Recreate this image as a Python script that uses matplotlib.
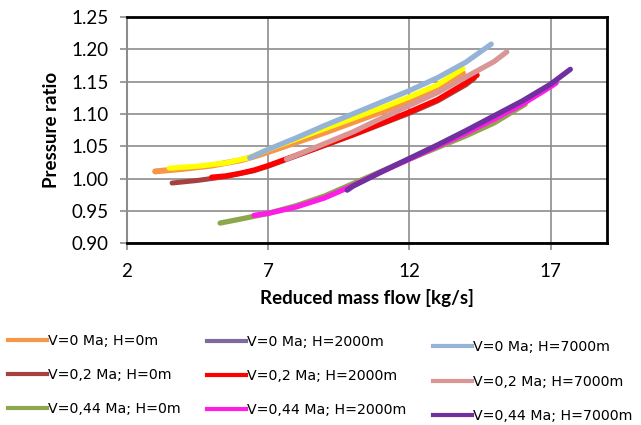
import matplotlib
matplotlib.use("Agg")
import matplotlib.pyplot as plt
from matplotlib.lines import Line2D

plt.rcParams['font.family'] = ['Lato', 'DejaVu Sans']

# --- data ---
v0_h0_x = [3.0, 4.0, 5.0, 6.0, 6.5, 7.0, 8.0, 9.0, 10.0, 11.0, 12.0, 13.0, 13.9]
v0_h0_y = [1.011, 1.015, 1.020, 1.028, 1.034, 1.041, 1.056, 1.071, 1.087, 1.103, 1.120, 1.139, 1.163]

v0_h2000_x = [3.5, 4.5, 5.5, 6.3, 7.0, 8.0, 9.0, 10.0, 11.0, 12.0, 13.0, 13.9]
v0_h2000_y = [1.016, 1.019, 1.024, 1.032, 1.045, 1.061, 1.077, 1.093, 1.109, 1.126, 1.145, 1.170]

v0_h7000_x = [6.35, 7.0, 8.0, 9.0, 10.0, 11.0, 12.0, 13.0, 14.0, 14.9]
v0_h7000_y = [1.032, 1.045, 1.063, 1.082, 1.100, 1.118, 1.136, 1.156, 1.180, 1.208]

v02_h0_x = [3.6, 4.5, 5.5, 6.5, 7.0, 8.0, 9.0, 10.0, 11.0, 12.0, 13.0, 14.0, 14.3]
v02_h0_y = [0.993, 0.997, 1.003, 1.012, 1.019, 1.035, 1.051, 1.067, 1.084, 1.101, 1.120, 1.145, 1.155]

v02_h2000_x = [5.0, 5.5, 6.0, 6.5, 7.0, 8.0, 9.0, 10.0, 11.0, 12.0, 13.0, 14.0, 14.4]
v02_h2000_y = [1.002, 1.004, 1.008, 1.013, 1.020, 1.036, 1.052, 1.068, 1.085, 1.103, 1.122, 1.148, 1.160]

v02_h7000_x = [7.65, 8.0, 9.0, 10.0, 11.0, 12.0, 13.0, 14.0, 15.0, 15.45]
v02_h7000_y = [1.030, 1.036, 1.054, 1.072, 1.093, 1.113, 1.133, 1.157, 1.181, 1.196]

v044_h0_x = [5.3, 6.0, 7.0, 8.0, 9.0, 10.0, 11.0, 12.0, 13.0, 14.0, 15.0, 16.1]
v044_h0_y = [0.931, 0.937, 0.946, 0.958, 0.973, 0.992, 1.011, 1.030, 1.048, 1.066, 1.086, 1.115]

v044_h2000_x = [6.5, 7.0, 8.0, 9.0, 10.0, 11.0, 12.0, 13.0, 14.0, 15.0, 16.0, 17.0, 17.2]
v044_h2000_y = [0.943, 0.946, 0.956, 0.970, 0.989, 1.010, 1.030, 1.050, 1.070, 1.092, 1.115, 1.142, 1.148]

v044_h7000_x = [9.8, 10.0, 11.0, 12.0, 13.0, 14.0, 15.0, 16.0, 17.0, 17.7]
v044_h7000_y = [0.982, 0.988, 1.010, 1.031, 1.052, 1.074, 1.097, 1.120, 1.146, 1.169]

legend_labels_h0 = ["V=0 Ma; H=0m", "V=0,2 Ma; H=0m", "V=0,44 Ma; H=0m"]
legend_labels_h2000 = ["V=0 Ma; H=2000m", "V=0,2 Ma; H=2000m", "V=0,44 Ma; H=2000m"]
legend_labels_h7000 = ["V=0 Ma; H=7000m", "V=0,2 Ma; H=7000m", "V=0,44 Ma; H=7000m"]
legend_colors_h0 = ["#F79646", "#A5423F", "#8EA74C"]
legend_colors_h2000 = ["#7F6A9E", "#FF0000", "#FF1CE6"]
legend_colors_h7000 = ["#95B3D7", "#D99694", "#7030A0"]

x_ticks = [2, 7, 12, 17]
y_ticks = [0.90, 0.95, 1.00, 1.05, 1.10, 1.15, 1.20, 1.25]

fig = plt.figure(figsize=(6.41, 4.25), dpi=100)
ax = fig.add_axes([0.198, 0.428, 0.749, 0.532])

series = [
    (v0_h0_x, v0_h0_y, "#F79646", 4.3),
    (v0_h2000_x, v0_h2000_y, "#FFFF00", 3.8),
    (v0_h7000_x, v0_h7000_y, "#95B3D7", 3.8),
    (v02_h0_x, v02_h0_y, "#A5423F", 3.6),
    (v02_h2000_x, v02_h2000_y, "#FF0000", 3.8),
    (v02_h7000_x, v02_h7000_y, "#D99694", 3.8),
    (v044_h0_x, v044_h0_y, "#8EA74C", 3.8),
    (v044_h2000_x, v044_h2000_y, "#FF1CE6", 3.8),
    (v044_h7000_x, v044_h7000_y, "#7030A0", 3.8),
]
for xs, ys, c, lw in series:
    ax.plot(xs, ys, color=c, lw=lw, solid_capstyle='round', solid_joinstyle='round')

ax.set_xlim(2, 19)
ax.set_ylim(0.90, 1.25)
ax.set_xticks(x_ticks)
ax.set_xticklabels([str(t) for t in x_ticks])
ax.set_yticks(y_ticks)
ax.set_yticklabels([f"{t:.2f}" for t in y_ticks])
ax.grid(True, color="#8C8C8C", lw=1.2)
ax.set_axisbelow(True)
ax.tick_params(axis='both', labelsize=13.5, color="#8C8C8C", length=5, width=1.2, direction='out')
ax.tick_params(axis='x', pad=9)
ax.tick_params(axis='y', pad=8)
for s in ['top', 'right', 'bottom']:
    ax.spines[s].set_color('black')
    ax.spines[s].set_linewidth(2)
ax.spines['left'].set_color("#8C8C8C")
ax.spines['left'].set_linewidth(1.5)

ax.set_xlabel("Reduced mass flow [kg/s]", fontsize=13.5, fontweight='bold', labelpad=7)
ax.set_ylabel("Pressure ratio", fontsize=13.5, fontweight='bold', labelpad=8)

groups = [
    (legend_labels_h0, legend_colors_h0, 8 / 641, 0.214),
    (legend_labels_h2000, legend_colors_h2000, 207 / 641, 0.212),
    (legend_labels_h7000, legend_colors_h7000, 433 / 641, 0.199),
]
for labs, cols, x0, y0 in groups:
    hs = [Line2D([0], [0], color=c, lw=3.0) for c in cols]
    fig.legend(hs, labs, loc='upper left', bbox_to_anchor=(x0, y0),
               frameon=False, prop={'family': 'DejaVu Sans', 'size': 10.2},
               handlelength=2.75, handletextpad=0.05, labelspacing=1.42,
               borderpad=0, borderaxespad=0)

fig.savefig("out.png", dpi=100)
